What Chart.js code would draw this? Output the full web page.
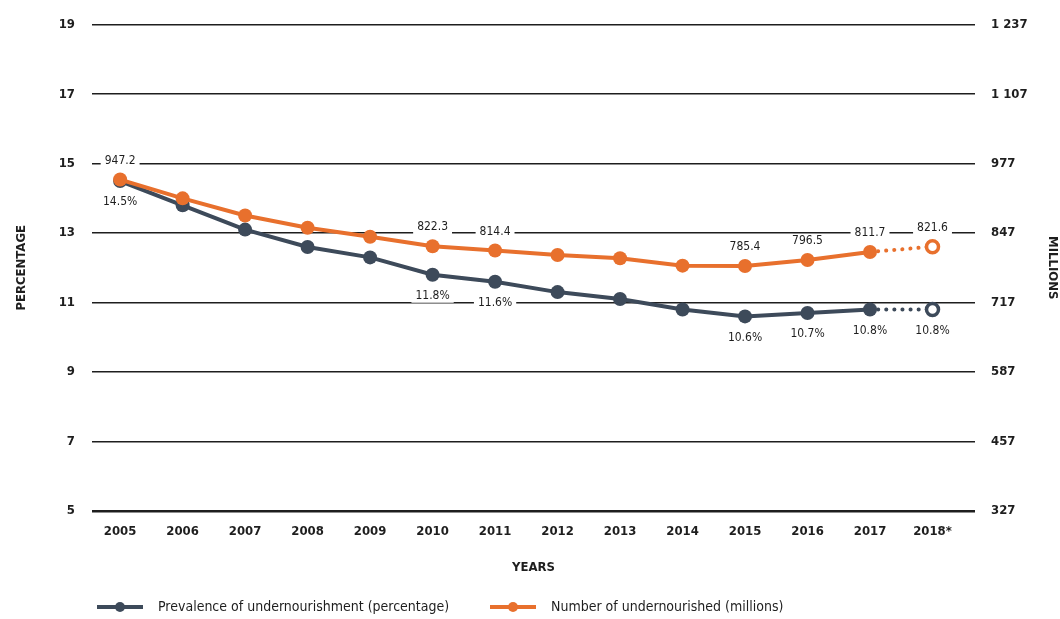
<!DOCTYPE html>
<html>
<head>
<meta charset="utf-8">
<script src="https://cdn.jsdelivr.net/npm/chart.js@4.4.0/dist/chart.umd.min.js"></script>
<style>
  html, body { margin: 0; padding: 0; background: #fff; }
</style>
</head>
<body>
<canvas id="chart" width="1060" height="619"></canvas>
<script>
const years = ['2005', '2006', '2007', '2008', '2009', '2010', '2011', '2012', '2013', '2014', '2015', '2016', '2017', '2018*'];
const prevalence = [14.5, 13.8, 13.1, 12.6, 12.3, 11.8, 11.6, 11.3, 11.1, 10.8, 10.6, 10.7, 10.8, 10.8];
const undernourished = [947.2, 912, 880, 857, 840, 822.3, 814.4, 806, 800, 786, 785.4, 796.5, 811.7, 821.6];
const labelledIdx = [0, 5, 6, 10, 11, 12, 13];
const leftTicks = [5, 7, 9, 11, 13, 15, 17, 19];
const rightTicks = [327, 457, 587, 717, 847, 977, 1107, 1237];

const BLUE = '#3d4a5a';
const ORANGE = '#e8702d';
const INK = '#1e1e1e';
const FONT = "'Liberation Sans Narrow', 'DejaVu Sans Condensed', 'Roboto', sans-serif";
const last = years.length - 1;

function fmtThousands(v) {
    return String(v).replace(/\B(?=(\d{3})+(?!\d))/g, ' ');
}

// value labels with a white patch behind, like the print version
const valueLabels = {
    id: 'valueLabels',
    afterDatasetsDraw(chart) {
        const ctx = chart.ctx;
        ctx.save();
        ctx.font = '12px ' + FONT;
        ctx.textAlign = 'center';
        ctx.textBaseline = 'middle';
        chart.data.datasets.forEach((ds, di) => {
            const meta = chart.getDatasetMeta(di);
            labelledIdx.forEach(i => {
                const pt = meta.data[i];
                const text = ds.key === 'pct' ? ds.data[i].y.toFixed(1) + '%' : ds.data[i].y.toFixed(1);
                const y = ds.key === 'pct' ? pt.y + 21 : pt.y - 19;
                const w = ctx.measureText(text).width;
                ctx.fillStyle = '#fff';
                ctx.fillRect(pt.x - w / 2 - 4, y - 7, w + 8, 14);
                ctx.fillStyle = INK;
                ctx.fillText(text, pt.x, y);
            });
        });
        ctx.restore();
    }
};

// legend: short line with a dot in the middle, then the text
const lineLegend = {
    id: 'lineLegend',
    afterDraw(chart) {
        const ctx = chart.ctx;
        const items = [
            { x: 97, color: BLUE, text: chart.data.datasets[1].label },
            { x: 490, color: ORANGE, text: chart.data.datasets[0].label }
        ];
        const y = 607;
        ctx.save();
        items.forEach(it => {
            ctx.strokeStyle = it.color;
            ctx.lineWidth = 4;
            ctx.beginPath();
            ctx.moveTo(it.x, y);
            ctx.lineTo(it.x + 46, y);
            ctx.stroke();
            ctx.fillStyle = it.color;
            ctx.beginPath();
            ctx.arc(it.x + 23, y, 5, 0, Math.PI * 2);
            ctx.fill();
            ctx.fillStyle = INK;
            ctx.font = '14px ' + FONT;
            ctx.textBaseline = 'middle';
            ctx.fillText(it.text, it.x + 61, y);
        });
        ctx.restore();
    }
};

const dotted = (ctx) => ctx.p1DataIndex === last ? [0.1, 8] : undefined;

new Chart(document.getElementById('chart'), {
    type: 'line',
    data: {
        datasets: [
            {
                key: 'num',
                label: 'Number of undernourished (millions)',
                data: undernourished.map((v, i) => ({ x: i, y: v })),
                yAxisID: 'y1',
                order: 1,
                borderColor: ORANGE,
                backgroundColor: ORANGE,
                borderWidth: 4,
                pointRadius: undernourished.map((v, i) => i === last ? 6 : 7),
                pointBackgroundColor: undernourished.map((v, i) => i === last ? '#fff' : ORANGE),
                pointBorderColor: ORANGE,
                pointBorderWidth: undernourished.map((v, i) => i === last ? 3.5 : 0),
                segment: { borderDash: dotted, borderCapStyle: ctx => ctx.p1DataIndex === last ? 'round' : 'butt' }
            },
            {
                key: 'pct',
                label: 'Prevalence of undernourishment (percentage)',
                data: prevalence.map((v, i) => ({ x: i, y: v })),
                yAxisID: 'y',
                order: 2,
                borderColor: BLUE,
                backgroundColor: BLUE,
                borderWidth: 4,
                pointRadius: prevalence.map((v, i) => i === last ? 6 : 7),
                pointBackgroundColor: prevalence.map((v, i) => i === last ? '#fff' : BLUE),
                pointBorderColor: BLUE,
                pointBorderWidth: prevalence.map((v, i) => i === last ? 3.5 : 0),
                segment: { borderDash: dotted, borderCapStyle: ctx => ctx.p1DataIndex === last ? 'round' : 'butt' }
            }
        ]
    },
    options: {
        responsive: false,
        animation: false,
        devicePixelRatio: 1,
        layout: { padding: { top: 22, bottom: 44, left: 0, right: 0 } },
        plugins: { legend: { display: false }, tooltip: { enabled: false } },
        scales: {
            x: {
                type: 'linear',
                min: -0.45,
                max: 13.68,
                afterBuildTicks: s => { s.ticks = years.map((y, i) => ({ value: i })); },
                grid: { display: false },
                border: { display: false },
                ticks: {
                    autoSkip: false, maxRotation: 0, padding: 5,
                    color: INK, font: { family: FONT, size: 13, weight: 'bold' },
                    callback: v => years[v]
                },
                title: {
                    display: true, text: 'YEARS', color: INK,
                    font: { family: FONT, size: 13, weight: 'bold' },
                    padding: { top: 15, bottom: 0 }
                }
            },
            y: {
                position: 'left',
                min: 5,
                max: 19,
                afterBuildTicks: s => { s.ticks = leftTicks.map(v => ({ value: v })); },
                afterFit: s => { s.width = 92; },
                grid: {
                    color: INK, drawTicks: false,
                    lineWidth: ctx => ctx.tick && ctx.tick.value === 5 ? 2.5 : 1.5
                },
                border: { display: false },
                ticks: { padding: 17, color: INK, font: { family: FONT, size: 13, weight: 'bold' } },
                title: {
                    display: true, text: 'PERCENTAGE', color: INK,
                    font: { family: FONT, size: 13, weight: 'bold' },
                    padding: { top: 14, bottom: 0 }
                }
            },
            y1: {
                position: 'right',
                min: 327,
                max: 1237,
                afterBuildTicks: s => { s.ticks = rightTicks.map(v => ({ value: v })); },
                afterFit: s => { s.width = 85; },
                grid: { display: false },
                border: { display: false },
                ticks: {
                    padding: 8, color: INK, font: { family: FONT, size: 13, weight: 'bold' },
                    callback: v => fmtThousands(v)
                },
                title: {
                    display: true, text: 'MILLIONS', color: INK,
                    font: { family: FONT, size: 13, weight: 'bold' },
                    padding: { top: 0, bottom: 2 }
                }
            }
        }
    },
    plugins: [valueLabels, lineLegend]
});
</script>
</body>
</html>
